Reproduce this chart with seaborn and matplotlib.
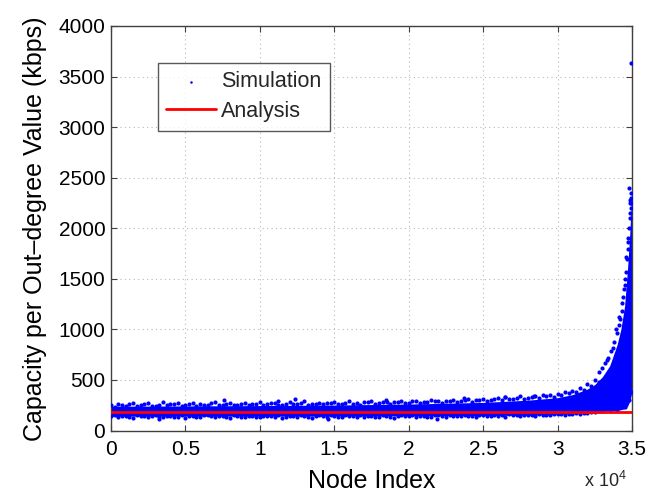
import matplotlib
matplotlib.use("Agg")
import matplotlib.pyplot as plt
import numpy as np
import pandas as pd
import seaborn as sns

# ---------------- data ----------------
# Node index positions of the flat part (every 500 nodes) and edge samples of the cloud
flat_x = list(range(0, 32501, 500))
flat_x_mid = [v + 250 for v in flat_x]
upper_edge = [248, 262, 240, 274, 252, 268, 245, 280, 258, 270,
              250, 277, 262, 248, 282, 256, 268, 252, 275, 262,
              284, 258, 270, 254, 278, 265, 288, 262, 275, 268,
              282, 264, 290, 272, 278, 295, 274, 298, 282, 290,
              276, 296, 284, 300, 288, 294, 305, 292, 310, 300,
              315, 304, 320, 335, 316, 338, 326, 342, 352, 348,
              362, 378, 392, 420, 460, 500]
upper_edge_mid = [236, 252, 258, 244, 265, 240, 256, 250, 262, 246,
                  260, 244, 255, 270, 248, 262, 252, 266, 250, 258,
                  254, 268, 248, 262, 258, 275, 252, 266, 260, 272,
                  258, 275, 264, 254, 282, 266, 278, 262, 284, 270,
                  288, 272, 280, 294, 276, 290, 282, 298, 286, 304,
                  296, 312, 302, 316, 326, 312, 332, 324, 338, 334,
                  355, 368, 384, 404, 440, 480]
lower_edge = [140, 132, 148, 128, 142, 136, 150, 130, 145, 138,
              126, 146, 134, 152, 130, 142, 124, 140, 136, 148,
              130, 144, 138, 122, 146, 134, 140, 128, 150, 136,
              142, 132, 146, 138, 130, 148, 136, 144, 128, 150,
              140, 134, 146, 138, 152, 132, 144, 140, 148, 136,
              150, 142, 146, 138, 154, 144, 150, 148, 156, 152,
              160, 158, 164, 162, 170, 180]
lower_edge_mid = [150, 144, 136, 152, 140, 146, 134, 148, 138, 154,
                  142, 136, 150, 140, 146, 132, 152, 138, 144, 130,
                  148, 140, 154, 136, 144, 150, 132, 146, 140, 152,
                  136, 150, 142, 154, 144, 138, 150, 134, 148, 142,
                  152, 146, 138, 150, 142, 156, 144, 150, 140, 154,
                  148, 156, 150, 160, 152, 158, 154, 162, 158, 164,
                  166, 168, 172, 176, 185, 192]

# dense core of the simulation cloud
core_x = [0, 5000, 10000, 15000, 20000, 25000, 28000, 30000, 31000, 32000,
          32500, 33000, 33500, 34000, 34250, 34500, 34700, 34850, 34950, 35000]
core_low = [142, 142, 142, 143, 145, 148, 152, 158, 165, 172,
            182, 190, 195, 200, 205, 215, 240, 290, 350, 400]
core_high = [240, 243, 247, 252, 262, 278, 300, 325, 355, 410,
             455, 530, 640, 850, 1000, 1230, 1600, 1950, 2250, 2300]

# sparse points at the steep tail and isolated outliers
tail_x = [32800, 33000, 33200, 33400, 33600, 33800, 34000, 34100, 34200, 34300,
          34400, 34500, 34550, 34600, 34650, 34700, 34750, 34800, 34850, 34880,
          34900, 34920, 34940, 34960, 34980, 34770, 34840, 34940, 34890,
          33900, 34350, 34600, 34750, 34450, 34150, 33300, 33700,
          33000, 33500, 34000, 34500, 34800, 34900]
tail_y = [580, 620, 670, 720, 790, 880, 960, 1040, 1100, 1180,
          1320, 1440, 1500, 1570, 1700, 1790, 1900, 2000, 2100, 2150,
          2250, 2200, 2300, 2350, 2254, 2400, 2253, 3632, 2280,
          1000, 1260, 1720, 1860, 1400, 1120, 700, 820,
          195, 200, 205, 230, 300, 380]
outlier_x = [11240, 12380, 14550, 18540, 26490, 28390, 3200, 7600, 21900, 23700]
outlier_y = [295, 309, 111, 285, 335, 345, 118, 300, 118, 320]

# analysis curve
analysis_x = [0, 35000]
analysis_y = [186, 186]

x_ticks = [0, 5000, 10000, 15000, 20000, 25000, 30000, 35000]
x_tick_labels = ["0", "0.5", "1", "1.5", "2", "2.5", "3", "3.5"]
y_ticks = [0, 500, 1000, 1500, 2000, 2500, 3000, 3500, 4000]

# ---------------- styling ----------------
sns.set_theme(style="white")
plt.rcParams["font.family"] = ["Liberation Sans", "DejaVu Sans"]
plt.rcParams["mathtext.fontset"] = "custom"
plt.rcParams["mathtext.rm"] = "Liberation Sans"
plt.rcParams["mathtext.it"] = "Liberation Sans"

BLUE = (0.0, 0.0, 1.0)
RED = (1.0, 0.0, 0.0)

fig = plt.figure(figsize=(6.6, 4.96), dpi=100)
ax = fig.add_axes([0.168, 0.132, 0.7896, 0.8156])

ax.fill_between(core_x, core_low, core_high, color=BLUE, linewidth=0, zorder=2)

sim = pd.DataFrame({
    "x": flat_x + flat_x_mid + flat_x + flat_x_mid + tail_x + outlier_x,
    "y": upper_edge + upper_edge_mid + lower_edge + lower_edge_mid + tail_y + outlier_y,
})
sns.scatterplot(data=sim, x="x", y="y", ax=ax, color=BLUE, s=9, linewidth=0,
                marker="o", label="Simulation", zorder=3)

ana = pd.DataFrame({"x": analysis_x, "y": analysis_y})
sns.lineplot(data=ana, x="x", y="y", ax=ax, color=RED, linewidth=2.0,
             label="Analysis", zorder=5)

ax.set_xlim(0, 35000)
ax.set_ylim(0, 4000)
ax.set_xticks(x_ticks)
ax.set_xticklabels(x_tick_labels)
ax.set_yticks(y_ticks)
ax.set_yticklabels([str(v) for v in y_ticks])

ax.grid(True, color="#b8b8b8", linestyle=(0, (1, 3)), linewidth=0.8)
ax.set_axisbelow(True)
for sp in ax.spines.values():
    sp.set_visible(True)
    sp.set_color("#404040")
    sp.set_linewidth(1.0)

ax.tick_params(axis="both", which="both", direction="in", length=4, width=0.8,
               color="#404040", labelsize=15, labelcolor="black",
               top=True, right=True, bottom=True, left=True)
ax.tick_params(axis="x", pad=7)
ax.tick_params(axis="y", pad=4)

ax.set_xlabel("Node Index", fontsize=18, color="black", labelpad=7)
ax.set_ylabel("Capacity per Out\u2013degree Value (kbps)", fontsize=18,
              color="black", labelpad=8)

fig.text(0.917, 0.030, r"x 10$^{4}$", fontsize=13, ha="center", va="center")

leg = ax.legend(loc="upper left", bbox_to_anchor=(0.09, 0.909), borderaxespad=0,
                frameon=True, fancybox=False, edgecolor="#303030", fontsize=15.5,
                handlelength=2.3, borderpad=0.4, labelspacing=0.4,
                handletextpad=0.25, markerscale=0.6)
leg.get_frame().set_linewidth(1.0)

fig.savefig("out.png", dpi=100)
